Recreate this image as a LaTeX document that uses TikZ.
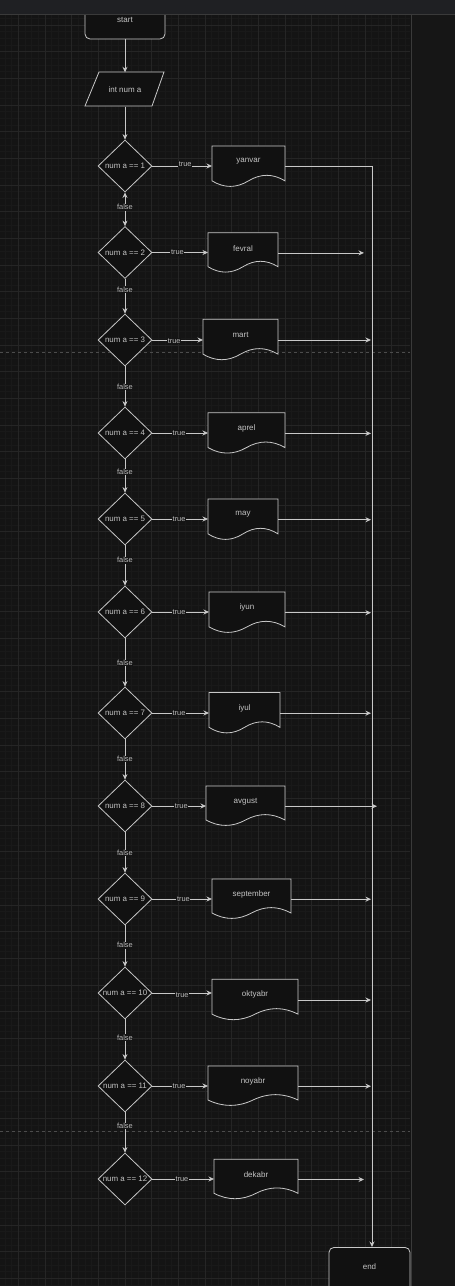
\documentclass[tikz,border=0pt]{standalone}
\usepackage{fontspec}
\setmainfont{Liberation Sans}
\usetikzlibrary{shapes.geometric,arrows.meta,calc}
\definecolor{canvas}{HTML}{141414}
\definecolor{panel}{HTML}{161616}
\definecolor{topbar}{HTML}{1F2023}
\definecolor{gridmaj}{HTML}{252525}
\definecolor{gridmin}{HTML}{191919}
\definecolor{shapefill}{HTML}{111111}
\definecolor{linec}{HTML}{C8C8C8}
\definecolor{textc}{HTML}{C4C4C4}
\definecolor{lblc}{HTML}{BBBBBB}
\definecolor{sepc}{HTML}{3A3A3A}
\definecolor{dashc}{HTML}{4C4C4C}
\tikzset{
  shp/.style={draw=linec, fill=shapefill, line width=0.8pt},
  txt/.style={text=textc, font=\fontsize{8}{9}\selectfont, inner sep=0pt},
  lbl/.style={text=lblc, fill=canvas, font=\fontsize{7.4}{8}\selectfont, inner sep=0.6pt},
  arr/.style={draw=linec, line width=0.8pt, -{Stealth[length=5.5pt,width=5pt]}},
  dia/.style={diamond, shp, minimum width=54, minimum height=52, inner sep=0pt, text=textc, font=\fontsize{7.9}{9}\selectfont},
  term/.style={rectangle, rounded corners=5pt, shp},
  box/.style={rectangle, draw=none, inner sep=0pt},
  majg/.style={draw=gridmaj, line width=0.8pt},
  ming/.style={draw=gridmin, line width=0.6pt},
}
\newcommand\mkdoc[6]{%
  \pgfmathsetmacro\xa{#2}\pgfmathsetmacro\xb{#2+#4}%
  \pgfmathsetmacro\xm{#2+0.5*#4}%
  \pgfmathsetmacro\xc{#2+0.8333*#4}\pgfmathsetmacro\xd{#2+0.6667*#4}%
  \pgfmathsetmacro\xe{#2+0.3333*#4}\pgfmathsetmacro\xf{#2+0.1667*#4}%
  \pgfmathsetmacro\ya{#3}\pgfmathsetmacro\yb{#3+0.85*#5}%
  \pgfmathsetmacro\yc{#3+0.67*#5}\pgfmathsetmacro\yd{#3+1.03*#5}%
  \pgfmathsetmacro\yt{#3+15.5}%
  \filldraw[shp] (\xa,\ya) -- (\xb,\ya) -- (\xb,\yb) .. controls (\xc,\yc) and (\xd,\yc) .. (\xm,\yb) .. controls (\xe,\yd) and (\xf,\yd) .. (\xa,\yb) -- cycle;
  \node[box, minimum width=#4, minimum height=#5, anchor=north west] (#1) at (\xa,\ya) {};
  \node[txt] (#1t) at (\xm,\yt) {#6};
}
\begin{document}
\begin{tikzpicture}[x=1pt,y=-1pt]
\useasboundingbox (0,0) rectangle (455,1286);
\clip (0,0) rectangle (455,1286);
% background
\fill[canvas] (0,0) rectangle (411,1286);
\fill[panel] (411,0) rectangle (455,1286);
% minor grid
\foreach \k in {0,...,61} { \draw[ming] ({-1.67+6.667*\k},14) -- ({-1.67+6.667*\k},1286); }
\foreach \j in {-1,...,189} { \draw[ming] (0,{25+6.667*\j}) -- (410,{25+6.667*\j}); }
% major grid
\foreach \k in {0,...,14} { \draw[majg] ({18.33+26.667*\k},14) -- ({18.33+26.667*\k},1286); }
\foreach \j in {0,...,47} { \draw[majg] (0,{25+26.667*\j}) -- (410,{25+26.667*\j}); }
% page breaks
\draw[dashc, line width=0.7pt, dash pattern=on 3pt off 3pt] (0,352) -- (410,352);
\draw[dashc, line width=0.7pt, dash pattern=on 3pt off 3pt] (0,1131) -- (410,1131);
\draw[sepc, line width=0.8pt] (411,14) -- (411,1286);

% terminals and input
\node[term, minimum width=80, minimum height=59] (start) at (125,9.5) {};
\node[txt] (startt) at (125,19.5) {start};
\filldraw[shp] (99,72) -- (164,72) -- (152,106) -- (85,106) -- cycle;
\node[box, txt, minimum width=66, minimum height=34] (inp) at (125,89.5) {int num a};
\node[term, minimum width=81, minimum height=60, anchor=north] (endn) at (369.5,1247) {};
\node[txt] (endt) at (369.5,1266.5) {end};

% decisions
\node[dia] (c1) at (125,166) {\makebox[0pt]{num a == 1}};
\node[dia] (c2) at (125,252.5) {\makebox[0pt]{num a == 2}};
\node[dia] (c3) at (125,340) {\makebox[0pt]{num a == 3}};
\node[dia] (c4) at (125,433) {\makebox[0pt]{num a == 4}};
\node[dia] (c5) at (125,519) {\makebox[0pt]{num a == 5}};
\node[dia] (c6) at (125,612) {\makebox[0pt]{num a == 6}};
\node[dia] (c7) at (125,713) {\makebox[0pt]{num a == 7}};
\node[dia] (c8) at (125,806) {\makebox[0pt]{num a == 8}};
\node[dia] (c9) at (125,899) {\makebox[0pt]{num a == 9}};
\node[dia] (c10) at (125,993) {\makebox[0pt]{num a == 10}};
\node[dia] (c11) at (125,1086) {\makebox[0pt]{num a == 11}};
\node[dia] (c12) at (125,1179) {\makebox[0pt]{num a == 12}};

% documents
\mkdoc{d1}{212}{146}{73}{41}{yanvar}
\mkdoc{d2}{208}{232.7}{70}{40}{fevral}
\mkdoc{d3}{203}{319.3}{75}{41}{mart}
\mkdoc{d4}{208}{412.7}{77}{41}{aprel}
\mkdoc{d5}{208}{499}{70}{41}{may}
\mkdoc{d6}{209}{592}{76}{41}{iyun}
\mkdoc{d7}{209}{692.5}{71}{41}{iyul}
\mkdoc{d8}{206}{786}{79}{40}{avgust}
\mkdoc{d9}{212}{879}{79}{40}{september}
\mkdoc{d10}{212}{979.3}{86}{41}{oktyabr}
\mkdoc{d11}{208}{1066}{90}{40}{noyabr}
\mkdoc{d12}{214}{1159.3}{84}{40}{dekabr}

% helper coordinates
\coordinate (bus) at (372,0);
\coordinate (tipA) at (371,0);
\coordinate (tipB) at (364,0);
\coordinate (tipC) at (377,0);

% main flow
\draw[arr] (start.south) -- (inp.north);
\draw[arr] (inp.south) -- (c1.north);
\draw[draw=linec, line width=0.8pt, {Stealth[length=5.5pt,width=5pt]}-{Stealth[length=5.5pt,width=5pt]}] (c1.south) -- node[lbl,pos=0.44]{false} (c2.north);
\draw[arr] (c2.south) -- node[lbl,pos=0.31]{false} (c3.north);
\draw[arr] (c3.south) -- node[lbl,pos=0.51]{false} (c4.north);
\draw[arr] (c4.south) -- node[lbl,pos=0.38]{false} (c5.north);
\draw[arr] (c5.south) -- node[lbl,pos=0.37]{false} (c6.north);
\draw[arr] (c6.south) -- node[lbl,pos=0.51]{false} (c7.north);
\draw[arr] (c7.south) -- node[lbl,pos=0.49]{false} (c8.north);
\draw[arr] (c8.south) -- node[lbl,pos=0.51]{false} (c9.north);
\draw[arr] (c9.south) -- node[lbl,pos=0.48]{false} (c10.north);
\draw[arr] (c10.south) -- node[lbl,pos=0.45]{false} (c11.north);
\draw[arr] (c11.south) -- node[lbl,pos=0.34]{false} (c12.north);

% true branches
\draw[arr] (c1.east) -- node[lbl,pos=0.55,yshift=2pt]{true} (c1.east -| d1.west);
\draw[arr] (c2.east) -- node[lbl,pos=0.45]{true} (c2.east -| d2.west);
\draw[arr] (c3.east) -- node[lbl,pos=0.43,yshift=-1pt]{true} (c3.east -| d3.west);
\draw[arr] (c4.east) -- node[lbl,pos=0.48]{true} (c4.east -| d4.west);
\draw[arr] (c5.east) -- node[lbl,pos=0.48]{true} (c5.east -| d5.west);
\draw[arr] (c6.east) -- node[lbl,pos=0.47]{true} (c6.east -| d6.west);
\draw[arr] (c7.east) -- node[lbl,pos=0.47]{true} (c7.east -| d7.west);
\draw[arr] (c8.east) -- node[lbl,pos=0.54]{true} (c8.east -| d8.west);
\draw[arr] (c9.east) -- node[lbl,pos=0.52]{true} (c9.east -| d9.west);
\draw[arr] (c10.east) -- node[lbl,pos=0.5,yshift=-2pt]{true} (c10.east -| d10.west);
\draw[arr] (c11.east) -- node[lbl,pos=0.48]{true} (c11.east -| d11.west);
\draw[arr] (c12.east) -- node[lbl,pos=0.48]{true} (c12.east -| d12.west);

% exits to end
\draw[arr] (d1.east) -- (d1.east -| bus) -- (bus |- endn.north);
\draw[arr] (d2.east) -- (d2.east -| tipB);
\draw[arr] (d3.east) -- (d3.east -| tipA);
\draw[arr] (d4.east) -- (d4.east -| tipA);
\draw[arr] (d5.east) -- (d5.east -| tipA);
\draw[arr] (d6.east) -- (d6.east -| tipA);
\draw[arr] (d7.east) -- (d7.east -| tipA);
\draw[arr] (d8.east) -- (d8.east -| tipC);
\draw[arr] (d9.east) -- (d9.east -| tipA);
\draw[arr] (d10.east) -- (d10.east -| tipA);
\draw[arr] (d11.east) -- (d11.east -| tipA);
\draw[arr] (d12.east) -- (d12.east -| tipB);

% top bar
\fill[topbar] (0,0) rectangle (455,14);
\draw[sepc, line width=0.8pt] (0,14) -- (455,14);
\end{tikzpicture}
\end{document}
